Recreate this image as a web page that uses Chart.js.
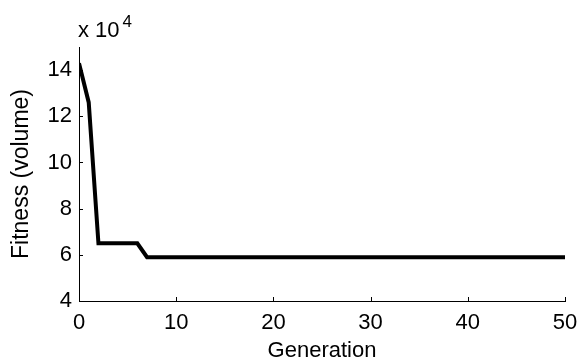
<!DOCTYPE html>
<html><head><meta charset="utf-8">
<script src="https://cdn.jsdelivr.net/npm/chart.js@4/dist/chart.umd.min.js"></script>
<style>html,body{margin:0;padding:0;background:#fff}#w{width:579px;height:362px}</style>
</head><body><div id="w"><canvas id="c"></canvas></div>
<script>
const generations = [0,1,2,3,4,5,6,7,8,9,10,15,20,25,30,35,40,45,50];
const fitness = [14.3,12.6,6.5,6.5,6.5,6.5,6.5,5.9,5.9,5.9,5.9,5.9,5.9,5.9,5.9,5.9,5.9,5.9,5.9];
const yTicks = [4,6,8,10,12,14];
const xTicks = [0,10,20,30,40,50];
const FONT = 'Liberation Sans, Arial, sans-serif';

const inwardTicks = {
  id:'inwardTicks',
  afterDraw(chart){
    const {ctx, chartArea:a, scales:{x,y}} = chart;
    ctx.save();
    ctx.strokeStyle='#000'; ctx.lineWidth=1;
    ctx.beginPath();
    xTicks.forEach(v=>{const p=Math.round(x.getPixelForValue(v))+0.5; ctx.moveTo(p,a.bottom); ctx.lineTo(p,a.bottom-4);});
    yTicks.forEach(v=>{const p=Math.round(y.getPixelForValue(v))+0.5; ctx.moveTo(a.left,p); ctx.lineTo(a.left+4,p);});
    ctx.stroke();
    ctx.fillStyle='#000';
    ctx.font='22px '+FONT;
    ctx.textBaseline='alphabetic';
    ctx.fillText('x 10', a.left-1, 37);
    const w = ctx.measureText('x 10').width;
    ctx.font='17px '+FONT;
    ctx.fillText('4', a.left-1+w+3, 27);
    ctx.restore();
  }
};

new Chart(document.getElementById('c'), {
  type:'line',
  data:{ datasets:[{ data: generations.map((g,i)=>({x:g,y:fitness[i]})), borderColor:'#000', borderWidth:4, pointRadius:0, tension:0, fill:false }]},
  options:{
    responsive:true, maintainAspectRatio:false, animation:false,
    layout:{padding:{top:47,right:0,left:0,bottom:0}},
    plugins:{legend:{display:false},tooltip:{enabled:false}},
    scales:{
      x:{type:'linear',min:0,max:50,
        afterBuildTicks(s){s.ticks=xTicks.map(v=>({value:v}));},
        afterFit(s){s.height=61; s.paddingRight=14; s.paddingLeft=0;},
        border:{display:true,color:'#000',width:1},
        grid:{display:false,drawTicks:false},
        ticks:{color:'#000',font:{family:FONT,size:22},padding:9,maxRotation:0},
        title:{display:true,text:'Generation',color:'#000',font:{family:FONT,size:22,lineHeight:1},padding:{top:0,bottom:0}}
      },
      y:{type:'linear',min:4,max:15,
        afterBuildTicks(s){s.ticks=yTicks.map(v=>({value:v}));},
        afterFit(s){s.width=79; s.paddingTop=0; s.paddingBottom=0;},
        border:{display:true,color:'#000',width:1},
        grid:{display:false,drawTicks:false},
        ticks:{color:'#000',font:{family:FONT,size:22},padding:7},
        title:{display:true,text:'Fitness (volume)',color:'#000',font:{family:FONT,size:23,lineHeight:1},padding:{top:10,bottom:0}}
      }
    }
  },
  plugins:[inwardTicks]
});
</script></body></html>
